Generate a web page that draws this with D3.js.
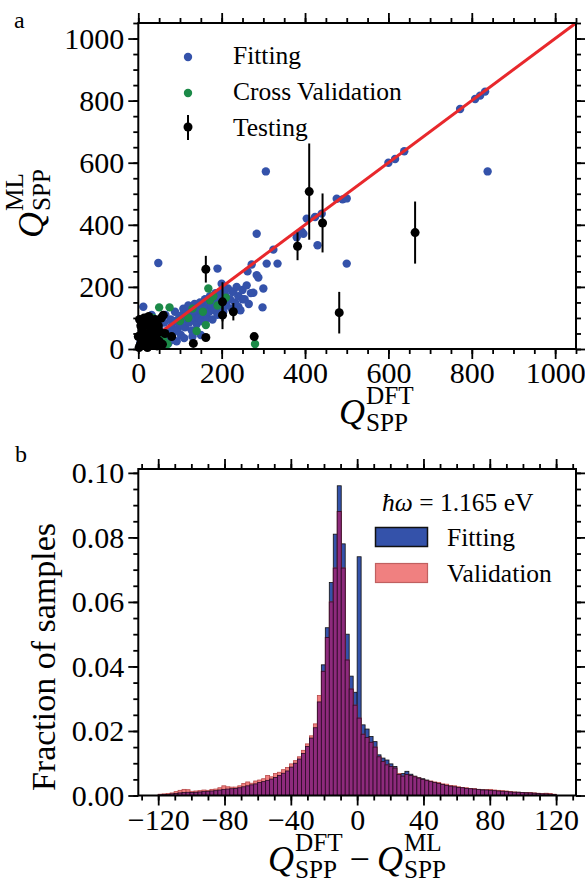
<!DOCTYPE html>
<html>
<head>
<meta charset="utf-8">
<script src="https://cdnjs.cloudflare.com/ajax/libs/d3/7.8.5/d3.min.js"></script>
<style>
body { margin: 0; background: white; }
svg { display: block; font-family: "Liberation Serif", "Times New Roman", serif; }
.tick text { font-family: "Liberation Serif", "Times New Roman", serif; }
</style>
</head>
<body>
<div id="chart"></div>
<script>
// ---- panel a : parity plot, [Q_DFT, Q_ML]
var fittingPts = [
    [772,773],[808,805],[820,816],[832,829],[838,572],[600,600],[616,612],[638,637],[306,572],
    [476,484],[490,482],[500,485],[430,334],[500,275],[380,360],[396,371],[424,425],[440,436],
    [404,420],[392,378],[284,371],[324,320],[308,275],[334,275],[272,272],[284,238],[288,230],
    [300,195],[276,181],[298,134],[226,184],[240,136],[250,160],[262,250],[200,210],[210,195],
    [48,277],[190,259],
    [12,136],[20,100],[25,60],[30,80],[35,40],[40,55],[45,90],[50,70],[55,30],[60,50],[62,85],
    [65,110],[70,60],[75,40],[78,95],[80,75],[85,55],[88,120],[90,90],[95,65],[98,100],[100,80],
    [102,45],[105,110],[108,130],[110,95],[112,70],[115,120],[118,100],[120,140],[122,85],[125,110],
    [128,60],[130,125],[132,95],[135,145],[138,115],[140,80],[142,135],[145,100],[148,150],[150,125],
    [152,90],[155,140],[158,110],[160,160],[162,130],[165,100],[168,150],[170,120],[172,170],[175,140],
    [178,95],[180,160],[182,125],[185,180],[188,145],[190,110],[192,165],[195,135],[198,185],[200,150],
    [204,120],[208,175],[212,140],[215,195],[220,160],[224,130],[228,185],[232,150],[236,200],[240,170],
    [245,125],[250,190],[255,160],[260,205],[265,145],[270,180],
    [5,20],[8,50],[10,10],[15,30],[18,70],[22,15],[28,25],[32,110],[38,10],[42,20],[46,35],[52,15],
    [58,12],[66,22],[72,18],[82,30],[92,25],[110,35],[130,40],[150,45]
];
var cvPts = [
    [168,195],[172,157],[50,134],[75,134],[140,58],[162,77],[280,16],[70,16],[28,66],[180,170],
    [190,140],[155,120],[120,100],[100,90],[45,45],[60,30],[20,20],[130,130],[210,165],[35,100]
];
// [Q_DFT, Q_ML, error]
var testingPts = [
    [410,507,155],[442,406,95],[382,331,45],[664,375,100],[482,117,67],[162,257,43],[202,152,63],
    [202,109,45],[228,120,28],[278,40,8],[60,109,10],[64,50,8],[80,40,6],[132,18,5],[162,37,6],
    [2,5,3],[5,15,4],[8,30,5],[10,60,6],[12,80,6],[15,45,5],[18,20,4],[20,90,8],[22,5,3],[25,35,5],
    [28,70,6],[30,50,5],[32,15,4],[35,25,4],[38,60,6],[40,95,8],[42,40,5],[45,10,3],[48,75,6],
    [50,25,4],[52,55,6],[55,100,8],[58,15,4],[3,95,6],[6,75,5],[14,100,7],[25,105,8],[0,40,4],[34,85,7]
];
var diagLine = [38, 1050];
var parityTicks = [0, 200, 400, 600, 800, 1000];

// ---- panel b : error histogram, bins of 2.4 from -120 to 120
var binStart = -120;
var binWidth = 2.4;
var fitFrac = [
    0.0002,0.0003,0.0003,0.0005,0.0006,0.0008,0.0009,0.0010,0.0009,0.0010,
    0.0011,0.0012,0.0013,0.0014,0.0015,0.0017,0.0019,0.0020,0.0021,0.0022,
    0.0024,0.0027,0.0030,0.0033,0.0036,0.0040,0.0043,0.0047,0.0051,0.0056,
    0.0062,0.0069,0.0076,0.0088,0.0100,0.0113,0.0130,0.0152,0.0178,0.0210,
    0.0290,0.0405,0.0520,0.0660,0.0810,0.0960,0.0780,0.0500,0.0370,0.0320,
    0.0740,0.0219,0.0206,0.0183,0.0167,0.0126,0.0116,0.0110,0.0098,0.0090,
    0.0065,0.0068,0.0075,0.0066,0.0060,0.0055,0.0052,0.0048,0.0043,0.0040,
    0.0037,0.0034,0.0031,0.0029,0.0027,0.0025,0.0024,0.0022,0.0021,0.0020,
    0.0019,0.0018,0.0017,0.0016,0.0015,0.0014,0.0013,0.0012,0.0011,0.0010,
    0.0010,0.0009,0.0009,0.0008,0.0007,0.0006,0.0005,0.0005,0.0004,0.0003
];
var valFrac = [
    0.0004,0.0005,0.0006,0.0008,0.0012,0.0016,0.0019,0.0018,0.0013,0.0014,
    0.0015,0.0017,0.0016,0.0019,0.0020,0.0024,0.0030,0.0027,0.0026,0.0026,
    0.0030,0.0037,0.0042,0.0038,0.0045,0.0048,0.0052,0.0062,0.0058,0.0068,
    0.0072,0.0080,0.0087,0.0098,0.0108,0.0120,0.0140,0.0160,0.0185,0.0222,
    0.0310,0.0385,0.0490,0.0600,0.0705,0.0880,0.0705,0.0420,0.0330,0.0280,
    0.0240,0.0190,0.0180,0.0165,0.0150,0.0120,0.0105,0.0095,0.0090,0.0085,
    0.0068,0.0060,0.0065,0.0062,0.0058,0.0054,0.0050,0.0046,0.0045,0.0042,
    0.0040,0.0036,0.0035,0.0031,0.0030,0.0027,0.0025,0.0024,0.0022,0.0021,
    0.0019,0.0017,0.0018,0.0019,0.0017,0.0016,0.0015,0.0014,0.0012,0.0011,
    0.0010,0.0009,0.0008,0.0009,0.0008,0.0007,0.0006,0.0007,0.0006,0.0004
];
var fracTicks = [0, 0.02, 0.04, 0.06, 0.08, 0.10];
var diffTicks = [-120, -80, -40, 0, 40, 80, 120];

var blue = "#3452aa", green = "#1c8a48", red = "#e8282c";
var pink = "#f08080", purple = "#8e2a7c";
var tickFont = 30;
var legendFont = 25.5;

var svg = d3.select("#chart").append("svg")
    .attr("width", 585)
    .attr("height", 882)

function styleAxis(g) {
    g.select(".domain").remove()
    g.selectAll(".tick line").attr("stroke", "black").attr("stroke-width", 1.8)
    g.selectAll(".tick text").style("font-size", tickFont + "px").attr("fill", "black")
}

// draws mirrored outward ticks on all four sides plus minor ticks
function drawFrame(g, x, y, major, minorX, minorY, fmtX, fmtY) {
    var r = x.range(), t = y.range();
    var w = r[1] - r[0], h = t[0] - t[1];

    g.append("g").attr("transform", "translate(0," + t[0] + ")")
        .call(d3.axisBottom(x).tickValues(major.x).tickSize(10).tickPadding(3).tickFormat(fmtX)).call(styleAxis)
    g.append("g").attr("transform", "translate(0," + t[0] + ")")
        .call(d3.axisBottom(x).tickValues(minorX).tickSize(5).tickFormat("")).call(styleAxis)
    g.append("g").attr("transform", "translate(0," + t[1] + ")")
        .call(d3.axisTop(x).tickValues(major.x).tickSize(10).tickFormat("")).call(styleAxis)
    g.append("g").attr("transform", "translate(0," + t[1] + ")")
        .call(d3.axisTop(x).tickValues(minorX).tickSize(5).tickFormat("")).call(styleAxis)

    g.append("g").attr("transform", "translate(" + r[0] + ",0)")
        .call(d3.axisLeft(y).tickValues(major.y).tickSize(10).tickPadding(4).tickFormat(fmtY)).call(styleAxis)
    g.append("g").attr("transform", "translate(" + r[0] + ",0)")
        .call(d3.axisLeft(y).tickValues(minorY).tickSize(5).tickFormat("")).call(styleAxis)
    g.append("g").attr("transform", "translate(" + r[1] + ",0)")
        .call(d3.axisRight(y).tickValues(major.y).tickSize(10).tickFormat("")).call(styleAxis)
    g.append("g").attr("transform", "translate(" + r[1] + ",0)")
        .call(d3.axisRight(y).tickValues(minorY).tickSize(5).tickFormat("")).call(styleAxis)

    g.append("rect")
        .attr("x", r[0]).attr("y", t[1])
        .attr("width", w).attr("height", h)
        .attr("fill", "none").attr("stroke", "black").attr("stroke-width", 2)
}

// Q with stacked superscript / subscript; parts may also be plain text with gaps
function mathLabel(container, parts, size) {
    var g = container.append("g")
    var x = 0;
    var small = size * 0.7;
    parts.forEach(function(p) {
        if (p.text) {
            x += p.gap || 0
            var t = g.append("text").attr("x", x).attr("y", 0)
                .style("font-size", size + "px").text(p.text)
            x += t.node().getComputedTextLength() + (p.gap || 0)
        } else {
            var q = g.append("text").attr("x", x).attr("y", 0)
                .style("font-size", size + "px").style("font-style", "italic").text("Q")
            x += q.node().getComputedTextLength() + 1
            var sup = g.append("text").attr("x", x).attr("y", -size * 0.55)
                .style("font-size", small + "px").text(p.sup)
            var sub = g.append("text").attr("x", x).attr("y", size * 0.2)
                .style("font-size", small + "px").text(p.sub)
            x += Math.max(sup.node().getComputedTextLength(), sub.node().getComputedTextLength())
        }
    })
    return g;
}

function range(a, b, s) {
    var out = [];
    for (var v = a; v <= b + 1e-9; v += s) out.push(+v.toFixed(4));
    return out;
}

// ================= panel a =================
var xa = d3.scaleLinear().domain([0, 1050]).range([138.3, 576]);
var ya = d3.scaleLinear().domain([0, 1050]).range([349, 23]);
var pa = svg.append("g")

pa.append("g").selectAll("circle")
    .data(fittingPts).enter().append("circle")
        .attr("cx", function(d) { return xa(d[0]); })
        .attr("cy", function(d) { return ya(d[1]); })
        .attr("r", 4.2)
        .attr("fill", blue)

pa.append("g").selectAll("circle")
    .data(cvPts).enter().append("circle")
        .attr("cx", function(d) { return xa(d[0]); })
        .attr("cy", function(d) { return ya(d[1]); })
        .attr("r", 4.2)
        .attr("fill", green)

pa.append("line")
    .attr("x1", xa(diagLine[0])).attr("y1", ya(diagLine[0]))
    .attr("x2", xa(diagLine[1])).attr("y2", ya(diagLine[1]))
    .attr("stroke", red).attr("stroke-width", 3)

var tg = pa.append("g")
tg.selectAll("line")
    .data(testingPts).enter().append("line")
        .attr("x1", function(d) { return xa(d[0]); })
        .attr("x2", function(d) { return xa(d[0]); })
        .attr("y1", function(d) { return ya(d[1] - d[2]); })
        .attr("y2", function(d) { return ya(d[1] + d[2]); })
        .attr("stroke", "black").attr("stroke-width", 2)
tg.selectAll("circle")
    .data(testingPts).enter().append("circle")
        .attr("cx", function(d) { return xa(d[0]); })
        .attr("cy", function(d) { return ya(d[1]); })
        .attr("r", 4.5)
        .attr("fill", "black")

drawFrame(pa, xa, ya, { x: parityTicks, y: parityTicks },
    range(0, 1050, 50), range(0, 1050, 50), d3.format("d"), d3.format("d"))

// legend a
var legA = pa.append("g").style("font-size", legendFont + "px")
legA.append("circle").attr("cx", 188).attr("cy", 57).attr("r", 4.2).attr("fill", blue)
legA.append("circle").attr("cx", 188).attr("cy", 93).attr("r", 4.2).attr("fill", green)
legA.append("line").attr("x1", 188).attr("x2", 188).attr("y1", 115).attr("y2", 140)
    .attr("stroke", "black").attr("stroke-width", 2)
legA.append("circle").attr("cx", 188).attr("cy", 127).attr("r", 4.5).attr("fill", "black")
legA.append("text").attr("x", 233).attr("y", 64).text("Fitting")
legA.append("text").attr("x", 233).attr("y", 100).text("Cross Validation")
legA.append("text").attr("x", 233).attr("y", 136).text("Testing")

svg.append("text").attr("x", 14).attr("y", 28).style("font-size", "24px").text("a")

var xlabA = mathLabel(svg, [{ sup: "DFT", sub: "SPP" }], 36)
xlabA.attr("transform", "translate(339,424)")

var ylabA = mathLabel(svg, [{ sup: "ML", sub: "SPP" }], 36)
ylabA.attr("transform", "translate(43,238) rotate(-90)")

// ================= panel b =================
var xb = d3.scaleLinear().domain([-132, 132]).range([138.3, 576]);
var yb = d3.scaleLinear().domain([0, 0.1012]).range([795.5, 469]);
var pb = svg.append("g")

var bins = fitFrac.map(function(f, i) {
    return { x0: binStart + i * binWidth, x1: binStart + (i + 1) * binWidth, fit: f, val: valFrac[i] };
})

function barRects(cls, value, fill, edge) {
    pb.append("g").selectAll("rect." + cls)
        .data(bins).enter().append("rect")
            .attr("class", cls)
            .attr("x", function(d) { return xb(d.x0); })
            .attr("width", function(d) { return xb(d.x1) - xb(d.x0); })
            .attr("y", function(d) { return yb(value(d)); })
            .attr("height", function(d) { return yb(0) - yb(value(d)); })
            .attr("fill", fill)
            .attr("stroke", edge)
            .attr("stroke-width", 0.8)
}

barRects("fit", function(d) { return d.fit; }, blue, "#111")
barRects("val", function(d) { return d.val; }, pink, "#b84848")
barRects("both", function(d) { return Math.min(d.fit, d.val); }, purple, "#2a0a25")

drawFrame(pb, xb, yb, { x: diffTicks, y: fracTicks },
    range(-130, 130, 10), range(0, 0.1, 0.005),
    function(d) { return d < 0 ? "\u2212" + Math.abs(d) : d; }, d3.format(".2f"))

// legend b
var legB = pb.append("g").style("font-size", legendFont + "px")
var hw = legB.append("text").attr("x", 382).attr("y", 511)
hw.append("tspan").style("font-style", "italic").text("\u0127\u03c9")
hw.append("tspan").text(" = 1.165 eV")
legB.append("rect").attr("x", 375.5).attr("y", 527.5).attr("width", 52).attr("height", 19)
    .attr("fill", blue).attr("stroke", "#111").attr("stroke-width", 1.5)
legB.append("rect").attr("x", 375.5).attr("y", 563.5).attr("width", 52).attr("height", 19)
    .attr("fill", pink).attr("stroke", "#c06060").attr("stroke-width", 1.2)
legB.append("text").attr("x", 447).attr("y", 546).text("Fitting")
legB.append("text").attr("x", 447).attr("y", 582).text("Validation")

svg.append("text").attr("x", 15).attr("y", 462).style("font-size", "24px").text("b")

var xlabB = mathLabel(svg, [{ sup: "DFT", sub: "SPP" }, { text: "\u2212", gap: 7 }, { sup: "ML", sub: "SPP" }], 36)
xlabB.attr("transform", "translate(268,871)")

svg.append("text")
    .attr("transform", "translate(55,657) rotate(-90)")
    .attr("text-anchor", "middle")
    .style("font-size", "34px")
    .text("Fraction of samples")
</script>
</body>
</html>
